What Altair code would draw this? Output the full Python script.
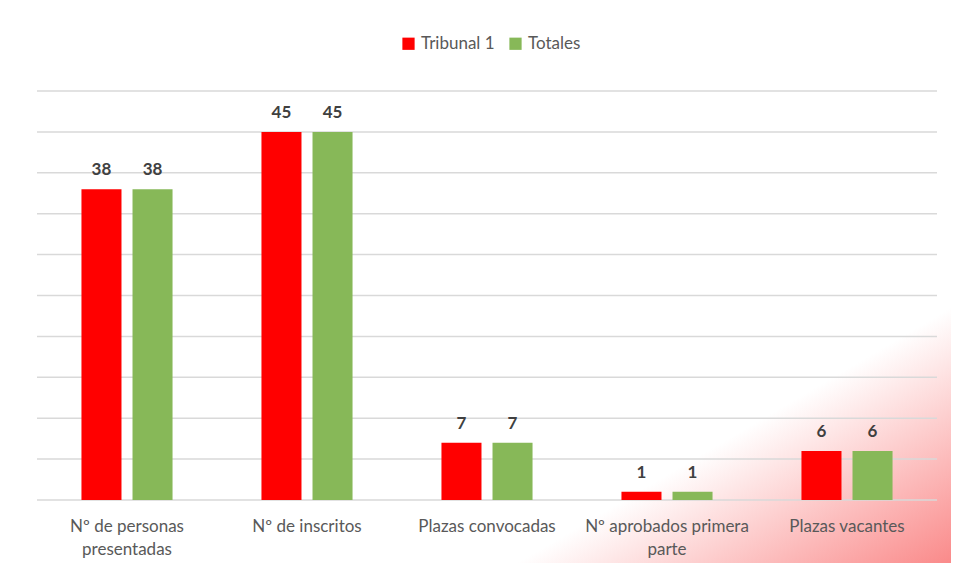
import altair as alt
import pandas as pd

categories = [
    "Nº de personas presentadas",
    "Nº de inscritos",
    "Plazas convocadas",
    "Nº aprobados primera parte",
    "Plazas vacantes",
]
series = ["Tribunal 1", "Totales"]
tribunal_1 = [38, 45, 7, 1, 6]
totales = [38, 45, 7, 1, 6]
grid_values = [0, 5, 10, 15, 20, 25, 30, 35, 40, 45, 50]
colors = ["#ff0000", "#87b858"]

rows = []
for c, a, b in zip(categories, tribunal_1, totales):
    rows.append({"cat": c, "serie": series[0], "valor": a})
    rows.append({"cat": c, "serie": series[1], "valor": b})
df = pd.DataFrame(rows)
grid_df = pd.DataFrame({"g": grid_values})

FONT = "Lato"
W, H = 900, 409
PL, PT, PR, PB = 29, 83, 14, 63

label_expr = (
    "datum.label == 'Nº de personas presentadas' ? ['Nº de personas', 'presentadas'] : "
    "datum.label == 'Nº aprobados primera parte' ? ['Nº aprobados primera', 'parte'] : datum.label"
)

y_scale = alt.Scale(domain=[0, 50], nice=False)

bg = alt.Chart(alt.Data(values=[{}])).mark_rect(
    color=alt.Gradient(
        gradient="linear",
        stops=[
            alt.GradientStop(color="#ffffff", offset=0),
            alt.GradientStop(color="#ffffff", offset=0.77),
            alt.GradientStop(color="#fa8a8a", offset=1),
        ],
        x1=0, y1=0, x2=1, y2=1,
    )
).encode(
    x=alt.value(-PL), x2=alt.value(W + PR),
    y=alt.value(-PT), y2=alt.value(H + PB),
)

grid = alt.Chart(grid_df).mark_rule(color="#d9d9d9", strokeWidth=1.5).encode(
    y=alt.Y("g:Q", scale=y_scale, axis=None),
    x=alt.value(0), x2=alt.value(W),
)

base = alt.Chart(df).encode(
    x=alt.X(
        "cat:N",
        sort=categories,
        scale=alt.Scale(paddingInner=0.494, paddingOuter=0.247),
        axis=alt.Axis(
            title=None, domain=False, ticks=False, labelAngle=0,
            labelFont=FONT, labelFontSize=17, labelColor="#595959",
            labelPadding=18, labelLineHeight=23, labelExpr=label_expr,
            labelLimit=300, zindex=1,
        ),
    ),
    xOffset=alt.XOffset("serie:N", sort=series,
                        scale=alt.Scale(paddingInner=0.216, paddingOuter=0)),
    y=alt.Y("valor:Q", scale=y_scale, axis=None),
)

bars = base.mark_bar().encode(
    color=alt.Color(
        "serie:N", sort=series,
        scale=alt.Scale(domain=series, range=colors),
        legend=alt.Legend(
            title=None, orient="none", direction="horizontal",
            legendX=363, legendY=-56, symbolType="square", symbolSize=150,
            symbolStrokeWidth=0, labelFont=FONT, labelFontSize=17,
            labelColor="#595959", columnPadding=12, symbolOffset=0,
            labelOffset=4, zindex=1,
        ),
    )
)

labels = base.mark_text(
    font=FONT, fontSize=17, fontWeight="bold", color="#404040",
    baseline="alphabetic", dy=-14,
).encode(text="valor:Q")

chart = alt.layer(bg, grid, bars, labels).properties(
    width=W, height=H,
    autosize=alt.AutoSizeParams(type="none"),
    padding={"left": PL, "top": PT, "right": PR, "bottom": PB},
).configure_view(stroke=None).configure(background="white")

chart.save("out.html", embed_options={"renderer": "svg", "actions": False})
